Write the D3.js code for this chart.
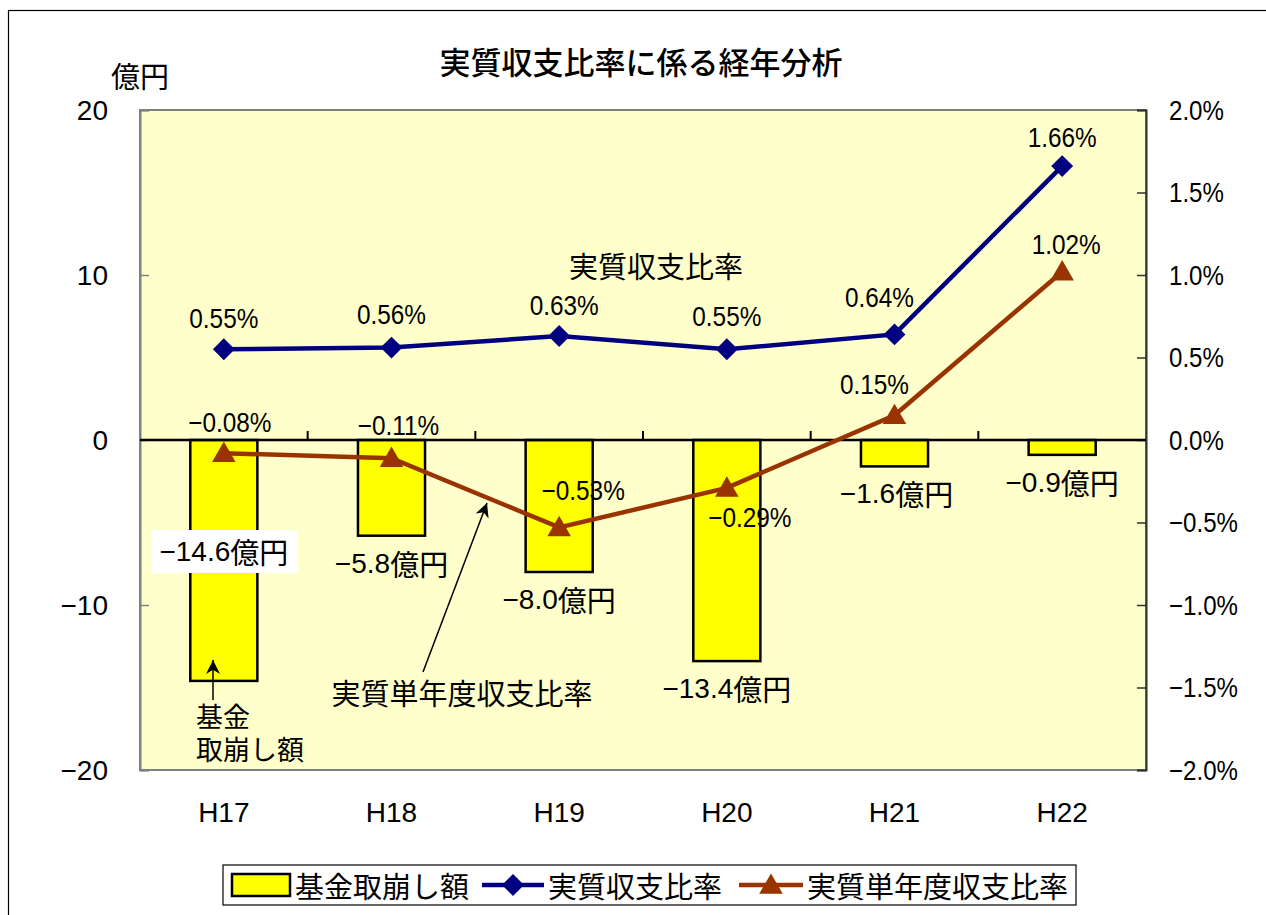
<!DOCTYPE html>
<html>
<head>
<meta charset="utf-8">
<script src="https://cdn.jsdelivr.net/npm/d3@7"></script>
<style>
  html, body { margin: 0; padding: 0; background: #fff; }
  svg { display: block; }
  text { font-family: "Liberation Sans", Arial, "Noto Sans CJK JP", sans-serif; fill: #000; }
  .jp { font-family: "Noto Sans CJK JP", sans-serif; }
</style>
</head>
<body>
<svg id="chart" width="1266" height="915"></svg>
<script>
// 年度
const years = ["H17", "H18", "H19", "H20", "H21", "H22"];
// 基金取崩し額 (億円)
const fundWithdrawal = [-14.6, -5.8, -8.0, -13.4, -1.6, -0.9];
// 実質収支比率 (%)
const realBalanceRatio = [0.55, 0.56, 0.63, 0.55, 0.64, 1.66];
// 実質単年度収支比率 (%)
const singleYearRatio = [-0.08, -0.11, -0.53, -0.29, 0.15, 1.02];
// 軸目盛
const leftTicks = [-20, -10, 0, 10, 20];
const rightTicks = [-2.0, -1.5, -1.0, -0.5, 0.0, 0.5, 1.0, 1.5, 2.0];

const svg = d3.select("#chart");
const plot = { left: 140, right: 1146, top: 110, bottom: 770 };

const x = d3.scaleBand().domain(years).range([plot.left, plot.right]).padding(0);
const yL = d3.scaleLinear().domain([-20, 20]).range([plot.bottom, plot.top]);
const yR = d3.scaleLinear().domain([-2, 2]).range([plot.bottom, plot.top]);
const cx = d => x(d) + x.bandwidth() / 2;
const barW = x.bandwidth() * 0.4;
const fmt1 = d3.format(".1f");
const fmt2 = d3.format(".2f");

// パーセント表記は横幅を詰めて描く
function squeeze(sel, k) {
  sel.each(function () {
    const len = this.getComputedTextLength();
    d3.select(this).attr("textLength", len * k).attr("lengthAdjust", "spacingAndGlyphs");
  });
}

// 外枠
svg.append("rect").attr("x", 8.5).attr("y", 10.5).attr("width", 1400).attr("height", 1000)
  .attr("fill", "#fff").attr("stroke", "#000").attr("stroke-width", 1.2);

// プロットエリア
svg.append("rect").attr("x", plot.left).attr("y", plot.top)
  .attr("width", plot.right - plot.left).attr("height", plot.bottom - plot.top)
  .attr("fill", "#FFFFCC").attr("stroke", "#808080").attr("stroke-width", 2);

// タイトル
svg.append("text").attr("class", "jp").attr("x", 641).attr("y", 60)
  .attr("text-anchor", "middle").attr("dominant-baseline", "central")
  .attr("font-size", 31).attr("font-weight", 500).text("実質収支比率に係る経年分析");
svg.append("text").attr("class", "jp").attr("x", 140).attr("y", 75)
  .attr("text-anchor", "middle").attr("dominant-baseline", "central")
  .attr("font-size", 29).text("億円");

// 左軸
const leftAxis = svg.append("g").attr("transform", `translate(${plot.left},0)`)
  .call(d3.axisRight(yL).tickValues(leftTicks).tickSize(9).tickFormat(""));
leftAxis.select(".domain").attr("stroke", "#808080").attr("stroke-width", 2);
leftAxis.selectAll(".tick line").attr("stroke", "#808080").attr("stroke-width", 1.5);
svg.append("g").selectAll("text").data(leftTicks).join("text")
  .attr("x", 108).attr("y", d => yL(d)).attr("text-anchor", "end")
  .attr("dominant-baseline", "central").attr("font-size", 28)
  .text(d => d3.format("d")(d));

// 右軸
const rightAxis = svg.append("g").attr("transform", `translate(${plot.right},0)`)
  .call(d3.axisLeft(yR).tickValues(rightTicks).tickSize(9).tickFormat(""));
rightAxis.select(".domain").attr("stroke", "#303030").attr("stroke-width", 2);
rightAxis.selectAll(".tick line").attr("stroke", "#303030").attr("stroke-width", 1.5);
svg.append("g").selectAll("text").data(rightTicks).join("text")
  .attr("x", 1169).attr("y", d => yR(d)).attr("text-anchor", "start")
  .attr("dominant-baseline", "central").attr("font-size", 28)
  .text(d => fmt1(d) + "%")
  .call(squeeze, 0.86);

// 横軸ラベル
svg.append("g").selectAll("text").data(years).join("text")
  .attr("x", d => cx(d)).attr("y", 812).attr("text-anchor", "middle")
  .attr("dominant-baseline", "central").attr("font-size", 28).text(d => d);

// 棒グラフ
svg.append("g").selectAll("rect").data(years).join("rect")
  .attr("x", d => cx(d) - barW / 2)
  .attr("y", (d, i) => Math.min(yL(0), yL(fundWithdrawal[i])))
  .attr("width", barW)
  .attr("height", (d, i) => Math.abs(yL(fundWithdrawal[i]) - yL(0)))
  .attr("fill", "#FFFF00").attr("stroke", "#000").attr("stroke-width", 2.5);

// ゼロ線と区切り目盛
svg.append("line").attr("x1", plot.left).attr("x2", plot.right)
  .attr("y1", yL(0)).attr("y2", yL(0)).attr("stroke", "#000").attr("stroke-width", 2.5);
svg.append("g").selectAll("line").data(years.slice(1)).join("line")
  .attr("x1", d => x(d)).attr("x2", d => x(d))
  .attr("y1", yL(0)).attr("y2", yL(0) - 9).attr("stroke", "#000").attr("stroke-width", 2);

// 折れ線
const lineGen = vals => d3.line().x((d, i) => cx(years[i])).y(d => yR(d))(vals);
svg.append("path").attr("d", lineGen(singleYearRatio)).attr("fill", "none")
  .attr("stroke", "#993300").attr("stroke-width", 4.5);
svg.append("path").attr("d", lineGen(realBalanceRatio)).attr("fill", "none")
  .attr("stroke", "#000080").attr("stroke-width", 4.5);

// マーカー
const diamond = d3.symbol().type(d3.symbolSquare).size(240);
svg.append("g").selectAll("path").data(realBalanceRatio).join("path")
  .attr("d", diamond())
  .attr("transform", (d, i) => `translate(${cx(years[i])},${yR(d)}) rotate(45)`)
  .attr("fill", "#000080");
const tri = d3.symbol().type(d3.symbolTriangle).size(240);
svg.append("g").selectAll("path").data(singleYearRatio).join("path")
  .attr("d", tri())
  .attr("transform", (d, i) => `translate(${cx(years[i])},${yR(d) + 2})`)
  .attr("fill", "#993300");

// 実質収支比率ラベル
const rbOffset = [[0, -31], [0, -33], [5, -31], [0, -33], [-15, -37], [0, -29]];
svg.append("g").selectAll("text").data(realBalanceRatio).join("text")
  .attr("x", (d, i) => cx(years[i]) + rbOffset[i][0])
  .attr("y", (d, i) => yR(d) + rbOffset[i][1])
  .attr("text-anchor", "middle").attr("dominant-baseline", "central")
  .attr("font-size", 28).text(d => fmt2(d) + "%")
  .call(squeeze, 0.87);

// 実質単年度収支比率ラベル
const syOffset = [[6, -31], [7, -33], [24, -37], [23, 30], [-20, -31], [4, -27]];
svg.append("g").selectAll("text").data(singleYearRatio).join("text")
  .attr("x", (d, i) => cx(years[i]) + syOffset[i][0])
  .attr("y", (d, i) => yR(d) + syOffset[i][1])
  .attr("text-anchor", "middle").attr("dominant-baseline", "central")
  .attr("font-size", 28).text(d => fmt2(d) + "%")
  .call(squeeze, 0.87);

// 基金取崩し額ラベル
const fwLabels = svg.append("g");
fundWithdrawal.forEach((v, i) => {
  const px = cx(years[i]);
  const py = i === 0 ? 551 : yL(v) + 27;
  if (i === 0) {
    fwLabels.append("rect").attr("x", px - 72).attr("y", py - 21)
      .attr("width", 146).attr("height", 43).attr("fill", "#fff");
  }
  const t = fwLabels.append("text").attr("x", px + [0, 0, 0, 0, 2, 0][i]).attr("y", py)
    .attr("text-anchor", "middle").attr("dominant-baseline", "central")
    .attr("font-size", 28);
  t.append("tspan").text(fmt1(v));
  t.append("tspan").attr("class", "jp").attr("font-size", 29).text("億円");
});

// 注記
const defs = svg.append("defs");
defs.append("marker").attr("id", "arrowhead").attr("viewBox", "0 0 10 10")
  .attr("refX", 10).attr("refY", 5)
  .attr("orient", "auto").attr("markerUnits", "userSpaceOnUse")
  .attr("markerWidth", 14).attr("markerHeight", 14)
  .append("path").attr("d", "M0,0 L10,5 L0,10 L3,5 Z").attr("fill", "#000");

svg.append("text").attr("class", "jp").attr("x", 656).attr("y", 265)
  .attr("text-anchor", "middle").attr("dominant-baseline", "central")
  .attr("font-size", 29).text("実質収支比率");

svg.append("text").attr("class", "jp").attr("x", 462).attr("y", 692)
  .attr("text-anchor", "middle").attr("dominant-baseline", "central")
  .attr("font-size", 29).text("実質単年度収支比率");
svg.append("line").attr("x1", 423).attr("y1", 672).attr("x2", 487).attr("y2", 503)
  .attr("stroke", "#000").attr("stroke-width", 1.5).attr("marker-end", "url(#arrowhead)");

const fundNote = svg.append("text").attr("class", "jp").attr("font-size", 27);
fundNote.append("tspan").attr("x", 196).attr("y", 727).text("基金");
fundNote.append("tspan").attr("x", 196).attr("y", 760).text("取崩し額");
svg.append("line").attr("x1", 213).attr("y1", 700).attr("x2", 213).attr("y2", 660)
  .attr("stroke", "#000").attr("stroke-width", 1.5).attr("marker-end", "url(#arrowhead)");

// 凡例
const lg = svg.append("g");
lg.append("rect").attr("x", 223).attr("y", 865).attr("width", 853).attr("height", 40)
  .attr("fill", "#fff").attr("stroke", "#000").attr("stroke-width", 1.2);
const ly = 885;
lg.append("rect").attr("x", 232).attr("y", ly - 11).attr("width", 58).attr("height", 22)
  .attr("fill", "#FFFF00").attr("stroke", "#000").attr("stroke-width", 2.5);
lg.append("text").attr("class", "jp").attr("x", 295).attr("y", ly)
  .attr("dominant-baseline", "central").attr("font-size", 29).text("基金取崩し額");
lg.append("line").attr("x1", 482).attr("x2", 544).attr("y1", ly).attr("y2", ly)
  .attr("stroke", "#000080").attr("stroke-width", 4.5);
lg.append("path").attr("d", diamond()).attr("transform", `translate(513,${ly}) rotate(45)`)
  .attr("fill", "#000080");
lg.append("text").attr("class", "jp").attr("x", 548).attr("y", ly)
  .attr("dominant-baseline", "central").attr("font-size", 29).text("実質収支比率");
lg.append("line").attr("x1", 739).attr("x2", 803).attr("y1", ly).attr("y2", ly)
  .attr("stroke", "#993300").attr("stroke-width", 4.5);
lg.append("path").attr("d", tri()).attr("transform", `translate(771,${ly + 2})`)
  .attr("fill", "#993300");
lg.append("text").attr("class", "jp").attr("x", 807).attr("y", ly)
  .attr("dominant-baseline", "central").attr("font-size", 29).text("実質単年度収支比率");
</script>
</body>
</html>
